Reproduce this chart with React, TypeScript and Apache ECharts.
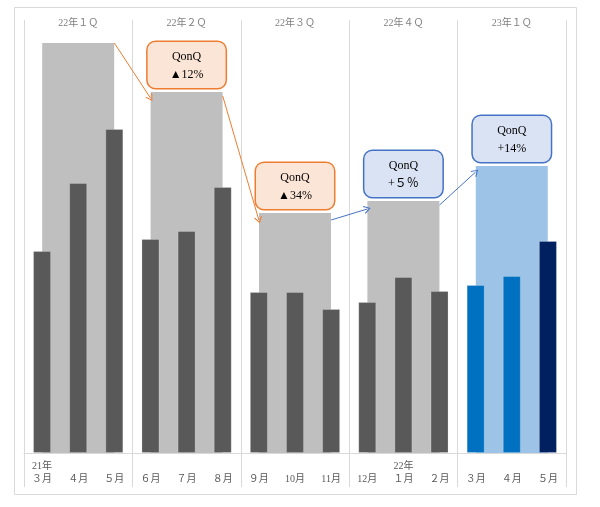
import React, { useEffect, useRef } from 'react';
import * as echarts from 'echarts';

const months = ['３月', '４月', '５月', '６月', '７月', '８月', '９月', '10月', '11月', '12月', '１月', '２月', '３月', '４月', '５月'];
const yearMarks = ['21年', '', '', '', '', '', '', '', '', '', '22年', '', '', '', ''];
const monthValues = [202, 270, 324, 214, 222, 266, 161, 161, 144, 151, 176, 162, 168, 177, 212];

const quarters = ['22年１Ｑ', '22年２Ｑ', '22年３Ｑ', '22年４Ｑ', '23年１Ｑ'];
const quarterValues = [410, 361, 240, 252, 287];
const qonq = ['', '▲12%', '▲34%', '+５％', '+14%'];

// arrows between quarter totals: [from month index, value] -> [to month index, value]
const arrows: [number, number, number, number][] = [
  [2, 410, 3, 355],
  [5, 357, 6, 233],
  [8, 233, 9, 244],
  [11, 248, 12, 281],
];

const serif = '"Liberation Serif", "DejaVu Serif", "Noto Sans CJK JP", serif';
const orange = '#ED7D31';
const blue = '#4472C4';
const chevron = 'path://M5,0 L10,9 L9,10 L5,2.6 L1,10 L0,9 Z';

const App: React.FC = () => {
  const chartRef = useRef<HTMLDivElement>(null);

  useEffect(() => {
    if (!chartRef.current) return;
    const chart = echarts.init(chartRef.current, null, { renderer: 'svg' });

    const lastQ = quarters.length - 1;

    const option: echarts.EChartsOption = {
      animation: false,
      graphic: [
        {
          type: 'rect',
          shape: { x: 14.5, y: 7.5, width: 562, height: 487 },
          style: { fill: 'none', stroke: '#D9D9D9', lineWidth: 1 },
          z: -1,
        },
      ],
      grid: { left: 24, right: 34, top: 20, bottom: 20, outerBoundsMode: 'none' } as any,
      xAxis: [
        {
          type: 'category',
          data: months,
          position: 'bottom',
          axisLine: { onZero: true, lineStyle: { color: '#D9D9D9' } },
          axisTick: { length: 3, lineStyle: { color: '#D9D9D9' } },
          splitLine: { show: false },
          axisLabel: {
            interval: 0,
            margin: -28,
            formatter: (v: string, i: number) => `{y|${yearMarks[i] || ' '}}\n{m|${v}}`,
            rich: {
              y: { fontFamily: serif, fontSize: 10, color: '#595959', lineHeight: 13 },
              m: { fontFamily: serif, fontSize: 10, color: '#595959', lineHeight: 13 },
            },
          },
        },
        {
          type: 'category',
          data: quarters,
          position: 'top',
          axisLine: { show: false, onZero: false },
          axisTick: { show: false },
          splitLine: { show: true, lineStyle: { color: '#D9D9D9', width: 1 } },
          axisLabel: {
            interval: 0,
            margin: -7,
            fontFamily: serif,
            fontSize: 10,
            color: '#7F7F7F',
          },
        },
      ],
      yAxis: { type: 'value', min: -34, max: 433, show: false, splitLine: { show: false } },
      series: [
        {
          type: 'bar',
          xAxisIndex: 1,
          barWidth: 72,
          z: 1,
          data: quarterValues.map((v, i) => {
            const up = qonq[i].startsWith('+');
            return {
              value: v,
              itemStyle: { color: i === lastQ ? '#9DC3E6' : '#BFBFBF' },
              label: {
                show: qonq[i] !== '',
                position: 'top',
                distance: 4,
                formatter: `QonQ\n${qonq[i]}`,
                fontFamily: serif,
                fontSize: 12,
                color: '#000',
                lineHeight: 18,
                width: 78,
                align: 'center',
                padding: [5, 0, 5, 0],
                backgroundColor: up ? '#DAE3F3' : '#FBE5D6',
                borderColor: up ? blue : orange,
                borderWidth: 1.5,
                borderRadius: 8,
              },
            };
          }),
        },
        {
          type: 'bar',
          xAxisIndex: 0,
          barWidth: 18,
          z: 2,
          data: monthValues.map((v, i) => ({
            value: v,
            itemStyle: {
              color: i < 12 ? '#595959' : i === 14 ? '#002060' : '#0070C0',
              borderColor: 'rgba(255,255,255,0.2)',
              borderWidth: 1,
            },
          })),
          markLine: {
            silent: true,
            symbol: ['none', chevron],
            symbolSize: [8, 7],
            label: { show: false },
            data: arrows.map(([x1, y1, x2, y2], i) => [
              {
                coord: [x1, y1],
                lineStyle: { color: i < 2 ? orange : blue, width: 1, type: 'solid' },
              },
              { coord: [x2, y2] },
            ]) as any,
          },
        },
      ],
    };

    chart.setOption(option);
    return () => {
      chart.dispose();
    };
  }, []);

  return (
    <div style={{ position: 'fixed', left: 0, top: 0, width: 600, height: 507 }}>
      <div ref={chartRef} style={{ width: 600, height: 507 }} />
    </div>
  );
};

export default App;
